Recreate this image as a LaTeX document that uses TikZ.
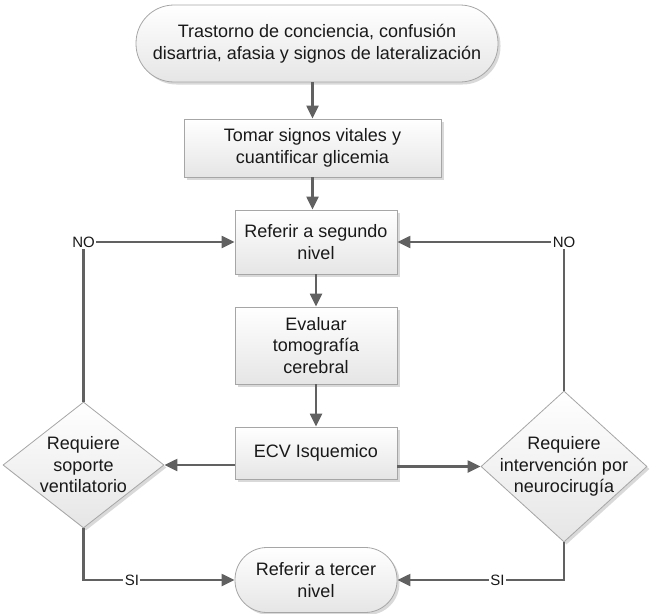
\documentclass[tikz,border=0pt]{standalone}
\usepackage{fontspec}
\setmainfont{Liberation Sans}
\usetikzlibrary{shapes.geometric,arrows.meta,shadows}
\begin{document}
\begin{tikzpicture}[x=1pt,y=-1pt,
  every node/.style={font=\fontsize{18}{21.5}\selectfont, text=black!90},
  base/.style={draw=black!35, line width=0.8pt, top color=white, bottom color=black!10,
    drop shadow={shadow xshift=2.5pt, shadow yshift=-2.5pt, fill=black!15, opacity=1},
    align=center, inner sep=0pt},
  procbox/.style={base, rectangle},
  term/.style={base, rectangle, rounded corners=#1},
  decision/.style={base, diamond},
  link/.style={draw=black!62, line width=2.2pt, -{Triangle[length=13pt,width=12pt]}},
  tag/.style={font=\fontsize{15}{17}\selectfont, fill=white, inner sep=1.5pt}
]
\useasboundingbox (0,0) rectangle (650,613);

% main column
\node[term=38pt, minimum width=362pt, minimum height=77pt] (t1) at (317,43.5)
  {Trastorno de conciencia, confusión\\disartria, afasia y signos de lateralización};
\node[procbox, minimum width=257pt, minimum height=58pt] (b2) at (312.5,148)
  {Tomar signos vitales y\\cuantificar glicemia};
\node[procbox, minimum width=162pt, minimum height=64pt] (b3) at (316,242)
  {Referir a segundo\\nivel};
\node[procbox, minimum width=162pt, minimum height=77pt] (b4) at (316,345.5)
  {Evaluar\\tomografía\\cerebral};
\node[procbox, minimum width=162pt, minimum height=52pt] (b5) at (316,453)
  {ECV Isquemico};
\node[term=32pt, minimum width=162pt, minimum height=65pt] (t2) at (316,580)
  {Referir a tercer\\nivel};

% decisions
\node[decision, minimum width=161pt, minimum height=126pt,
  label={[align=center]center:Requiere\\soporte\\ventilatorio}] (d1) at (83.5,465) {};
\node[decision, minimum width=166pt, minimum height=151pt,
  label={[align=center]center:Requiere\\intervención por\\neurocirugía}] (d2) at (564,466.5) {};

% connectors
\draw[link] (t1.south -| b2.north) -- (b2.north);
\draw[link] (b2.south) -- (b2.south |- b3.north);
\draw[link] (b3) -- (b4);
\draw[link] (b4) -- (b5);
\draw[link] (b5.west |- d1.east) -- (d1.east);
\draw[link] (b5.east |- d2.west) -- (d2.west);
\draw[link] (d1.north) |- node[tag]{NO} (b3.west);
\draw[link] (d2.north) |- node[tag]{NO} (b3.east);
\draw[link] (d1.south) |- node[tag, pos=0.66]{SI} (t2.west);
\draw[link] (d2.south) |- node[tag, pos=0.7]{SI} (t2.east);
\end{tikzpicture}
\end{document}
